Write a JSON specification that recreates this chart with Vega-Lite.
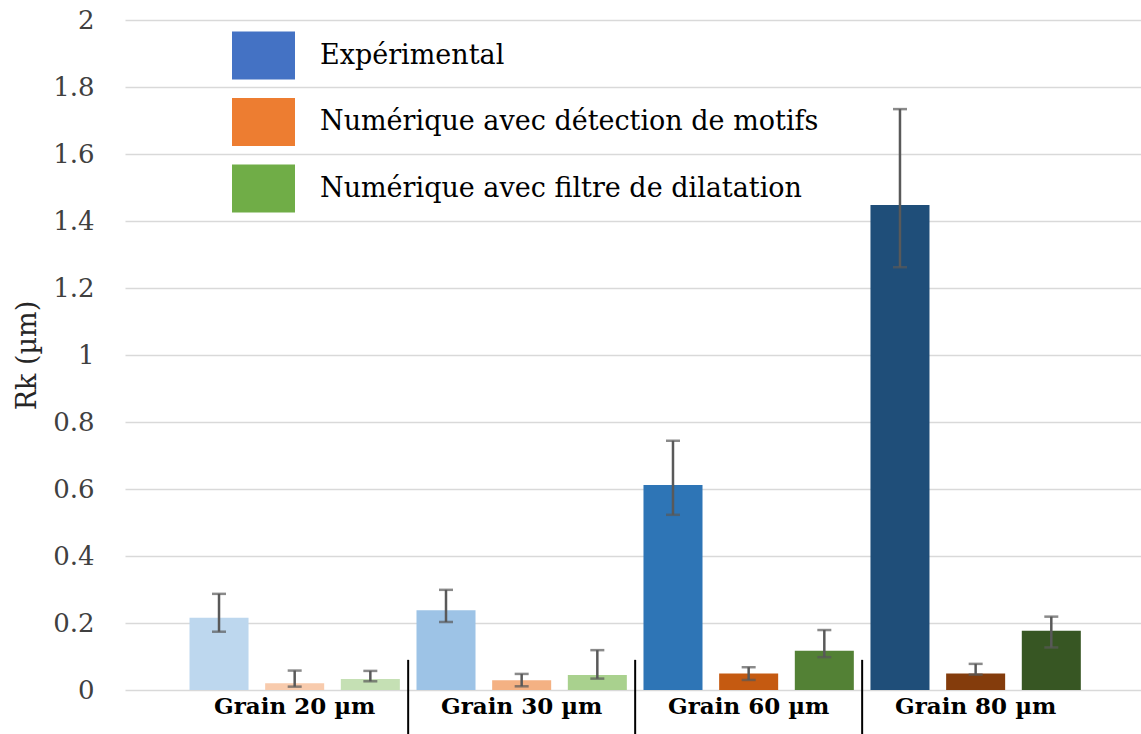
{
  "$schema": "https://vega.github.io/schema/vega-lite/v6.json",
  "autosize": "none",
  "width": 1016,
  "height": 670,
  "padding": {"left": 125, "top": 20, "right": 0, "bottom": 44},
  "background": "white",
  "config": {"view": {"stroke": null}, "font": "DejaVu Serif"},
  "data": {"values": [
    {"grain": "Grain 20 µm", "serie": "Expérimental", "v": 0.216, "lo": 0.174, "hi": 0.287},
    {"grain": "Grain 20 µm", "serie": "Numérique avec détection de motifs", "v": 0.020, "lo": 0.010, "hi": 0.058},
    {"grain": "Grain 20 µm", "serie": "Numérique avec filtre de dilatation", "v": 0.033, "lo": 0.026, "hi": 0.057},
    {"grain": "Grain 30 µm", "serie": "Expérimental", "v": 0.238, "lo": 0.203, "hi": 0.299},
    {"grain": "Grain 30 µm", "serie": "Numérique avec détection de motifs", "v": 0.029, "lo": 0.011, "hi": 0.048},
    {"grain": "Grain 30 µm", "serie": "Numérique avec filtre de dilatation", "v": 0.045, "lo": 0.034, "hi": 0.119},
    {"grain": "Grain 60 µm", "serie": "Expérimental", "v": 0.612, "lo": 0.523, "hi": 0.744},
    {"grain": "Grain 60 µm", "serie": "Numérique avec détection de motifs", "v": 0.049, "lo": 0.030, "hi": 0.068},
    {"grain": "Grain 60 µm", "serie": "Numérique avec filtre de dilatation", "v": 0.117, "lo": 0.098, "hi": 0.179},
    {"grain": "Grain 80 µm", "serie": "Expérimental", "v": 1.448, "lo": 1.262, "hi": 1.734},
    {"grain": "Grain 80 µm", "serie": "Numérique avec détection de motifs", "v": 0.049, "lo": 0.046, "hi": 0.078},
    {"grain": "Grain 80 µm", "serie": "Numérique avec filtre de dilatation", "v": 0.177, "lo": 0.127, "hi": 0.219}
  ]},
  "transform": [{"calculate": "datum.serie + '|' + datum.grain", "as": "key"}],
  "encoding": {
    "x": {"field": "grain", "type": "nominal", "sort": null,
      "scale": {"paddingInner": 0, "paddingOuter": 0.238, "align": 0.52},
      "axis": {"title": null, "domain": false, "ticks": false, "tickSize": 0, "labelAngle": 0,
        "labelFont": "DejaVu Serif", "labelFontSize": 23, "labelFontWeight": "bold", "labelColor": "#000000", "labelPadding": 5}},
    "xOffset": {"field": "serie", "type": "nominal", "sort": null, "scale": {"paddingInner": 0.22, "paddingOuter": 0.11}}
  },
  "layer": [
    {
      "mark": {"type": "bar"},
      "encoding": {
        "y": {"field": "v", "type": "quantitative",
          "scale": {"domain": [0, 2], "nice": false},
          "axis": {"title": "Rk (µm)", "values": [0, 0.2, 0.4, 0.6, 0.8, 1, 1.2, 1.4, 1.6, 1.8, 2], "format": "~g",
            "domain": false, "ticks": false, "tickSize": 0, "grid": true, "gridColor": "#d9d9d9", "gridWidth": 1.5,
            "labelFont": "DejaVu Serif", "labelFontSize": 26, "labelColor": "#404040", "labelPadding": 31,
            "titleFont": "DejaVu Serif", "titleFontSize": 27, "titleFontWeight": "normal", "titleColor": "#262626", "titlePadding": 11}},
        "fill": {"field": "key", "type": "nominal", "legend": null,
          "scale": {
            "domain": [
              "Expérimental|Grain 20 µm", "Expérimental|Grain 30 µm", "Expérimental|Grain 60 µm", "Expérimental|Grain 80 µm",
              "Numérique avec détection de motifs|Grain 20 µm", "Numérique avec détection de motifs|Grain 30 µm", "Numérique avec détection de motifs|Grain 60 µm", "Numérique avec détection de motifs|Grain 80 µm",
              "Numérique avec filtre de dilatation|Grain 20 µm", "Numérique avec filtre de dilatation|Grain 30 µm", "Numérique avec filtre de dilatation|Grain 60 µm", "Numérique avec filtre de dilatation|Grain 80 µm"
            ],
            "range": [
              "#bdd7ee", "#9dc3e6", "#2e75b6", "#1f4e79",
              "#f8cbad", "#f4b183", "#c55a11", "#843c0c",
              "#c5e0b4", "#a9d18e", "#538135", "#375623"
            ]}}
      }
    },
    {
      "mark": {"type": "bar", "strokeWidth": 0},
      "encoding": {
        "y": {"datum": 0},
        "y2": {"datum": 0},
        "color": {"field": "serie", "type": "nominal", "sort": null,
          "scale": {"domain": ["Expérimental", "Numérique avec détection de motifs", "Numérique avec filtre de dilatation"],
            "range": ["#4472c4", "#ed7d31", "#70ad47"]},
          "legend": {"orient": "none", "legendX": 107, "legendY": 4, "title": null, "padding": 0,
            "symbolType": "M-1,-0.76H1V0.76H-1Z", "symbolSize": 3969, "symbolStrokeWidth": 0,
            "labelFont": "DejaVu Serif", "labelFontSize": 27, "labelColor": "#000000", "labelOffset": 25, "rowPadding": 10.5, "labelLimit": 700}}
      }
    },
    {
      "mark": {"type": "rule", "color": "#595959", "strokeWidth": 2.5},
      "encoding": {
        "y": {"field": "lo", "type": "quantitative"},
        "y2": {"field": "hi"}
      }
    },
    {
      "mark": {"type": "tick", "color": "#595959", "thickness": 2.5, "size": 14},
      "encoding": {"y": {"field": "lo", "type": "quantitative"}}
    },
    {
      "mark": {"type": "tick", "color": "#595959", "thickness": 2.5, "size": 14},
      "encoding": {"y": {"field": "hi", "type": "quantitative"}}
    },
    {
      "transform": [{"filter": "datum.serie == 'Expérimental' && datum.grain != 'Grain 20 µm'"}],
      "mark": {"type": "rule", "color": "#000000", "strokeWidth": 2},
      "encoding": {
        "x": {"field": "grain", "type": "nominal", "sort": null, "bandPosition": 0},
        "xOffset": null,
        "y": {"datum": 0.09},
        "y2": {"datum": -0.135}
      }
    }
  ]
}
